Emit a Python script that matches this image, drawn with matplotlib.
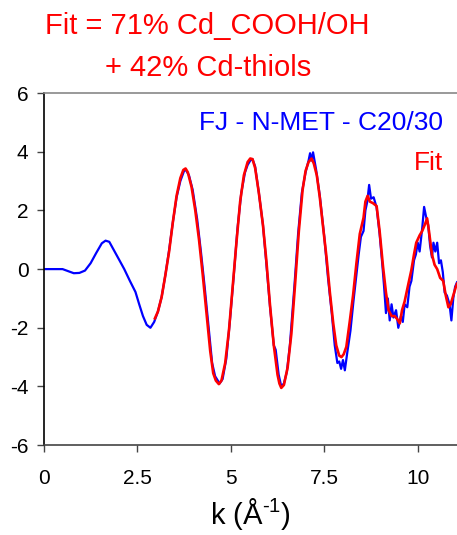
import numpy as np
import matplotlib
matplotlib.use('Agg')
import matplotlib.pyplot as plt

plt.rcParams['font.family'] = ['Liberation Sans', 'DejaVu Sans']
plt.rcParams['mathtext.fontset'] = 'custom'
plt.rcParams['mathtext.rm'] = 'Liberation Sans'
plt.rcParams['axes.unicode_minus'] = False

# --- data ---
k_data = [0, 0.3, 0.5, 0.65, 0.8, 0.95, 1.1, 1.25, 1.4, 1.55, 1.65, 1.75, 1.85,
          2.0, 2.15, 2.3, 2.45, 2.55, 2.65, 2.75, 2.85, 2.95, 3.05, 3.15, 3.25,
          3.35, 3.45, 3.55, 3.65, 3.75, 3.8, 3.88, 3.98, 4.1, 4.2, 4.3, 4.4,
          4.5, 4.58, 4.65, 4.7, 4.78, 4.88, 4.98, 5.08, 5.18, 5.28, 5.38, 5.45,
          5.52, 5.58, 5.65, 5.75, 5.86, 5.95, 6.05, 6.15, 6.2, 6.28, 6.35, 6.42,
          6.5, 6.58, 6.7, 6.8, 6.9, 7.0, 7.08, 7.12, 7.16, 7.2, 7.28, 7.38,
          7.5, 7.6, 7.7, 7.78, 7.85, 7.9, 7.95, 8.0, 8.05, 8.12, 8.2, 8.28,
          8.35, 8.42, 8.48, 8.55, 8.6, 8.65, 8.7, 8.75, 8.82, 8.9, 8.98, 9.05,
          9.1, 9.15, 9.2, 9.25, 9.3, 9.35, 9.42, 9.48, 9.55, 9.6, 9.65, 9.72,
          9.78, 9.83, 9.9, 9.95, 10.0, 10.05, 10.12, 10.17, 10.22, 10.28, 10.33,
          10.38, 10.42, 10.47, 10.52, 10.57, 10.62, 10.67, 10.72, 10.78, 10.85,
          10.9, 10.95, 11.0, 11.05]
chi_data = [0, 0, 0, -0.07, -0.14, -0.13, -0.05, 0.2, 0.55, 0.88, 0.97, 0.93, 0.7,
            0.35, 0.0, -0.4, -0.78, -1.2, -1.6, -1.9, -2.0, -1.8, -1.45, -0.95, -0.2,
            0.65, 1.6, 2.45, 3.0, 3.35, 3.38, 3.2, 2.7, 1.7, 0.6, -0.6, -1.9,
            -3.2, -3.65, -3.8, -3.9, -3.75, -3.05, -1.7, -0.2, 1.4, 2.6, 3.3, 3.55,
            3.7, 3.75, 3.5, 2.6, 1.5, 0.2, -1.3, -2.6, -2.75, -3.6, -4.0, -3.9,
            -3.5, -2.6, -0.6, 1.2, 2.6, 3.3, 3.7, 3.95, 3.7, 3.98, 3.4, 2.5,
            1.1, -0.3, -1.5, -2.6, -3.2, -3.15, -3.4, -3.1, -3.45, -2.8, -2.1, -1.1,
            -0.3, 0.5, 1.1, 1.3, 2.0, 2.3, 2.87, 2.4, 2.45, 2.1, 1.2, 0.2,
            -0.6, -1.5, -1.0, -1.75, -1.2, -1.65, -1.4, -2.0, -1.6, -1.8, -1.2, -1.3,
            -0.6, -0.4, 0.3, 0.5, 0.9, 0.6, 1.4, 2.12, 1.8, 1.5, 0.8,
            0.4, 0.9, 0.6, 0.9, 0.2, 0.3, -0.1, -0.8, -0.9, -1.2,
            -1.75, -1.0, -0.6, -0.45]

k_fit = [2.97, 3.05, 3.15, 3.25, 3.35, 3.45, 3.55, 3.65, 3.73, 3.79, 3.85, 3.95,
         4.05, 4.15, 4.25, 4.35, 4.45, 4.53, 4.6, 4.68, 4.75, 4.85, 4.95, 5.05,
         5.15, 5.25, 5.35, 5.45, 5.52, 5.58, 5.65, 5.75, 5.86, 5.95, 6.05, 6.15,
         6.25, 6.3, 6.35, 6.42, 6.52, 6.62, 6.72, 6.82, 6.92, 7.0, 7.08, 7.16,
         7.22, 7.3, 7.38, 7.48, 7.56, 7.65, 7.74, 7.82, 7.9, 7.96, 8.02, 8.09,
         8.18, 8.27, 8.36, 8.45, 8.55, 8.6, 8.66, 8.72, 8.8, 8.9, 8.98, 9.07,
         9.15, 9.22, 9.3, 9.38, 9.45, 9.52, 9.58, 9.65, 9.75, 9.83, 9.9, 9.96,
         10.05, 10.12, 10.2, 10.25, 10.3, 10.38, 10.45, 10.52, 10.6, 10.68,
         10.75, 10.82, 10.88, 10.95, 11.02, 11.05]
chi_fit = [-1.68, -1.45, -0.95, -0.2, 0.6, 1.6, 2.5, 3.1, 3.38, 3.43, 3.3, 2.8,
           2.0, 1.0, -0.2, -1.5, -2.8, -3.55, -3.8, -3.92, -3.8, -3.2, -2.1, -0.6,
           0.9, 2.3, 3.2, 3.65, 3.77, 3.75, 3.45, 2.6, 1.5, 0.3, -1.25, -2.6,
           -3.6, -3.9, -4.05, -3.95, -3.35, -2.2, -0.5, 1.3, 2.7, 3.35, 3.65, 3.77,
           3.6, 3.2, 2.45, 1.3, 0.4, -0.8, -1.85, -2.6, -2.95, -3.0, -2.9, -2.65,
           -1.8, -0.9, 0.2, 1.2, 1.75, 2.3, 2.5, 2.3, 2.25, 2.15, 1.3, 0.1,
           -0.8, -1.4, -1.6, -1.6, -1.7, -1.85, -1.4, -1.1, -0.5, -0.03, 0.5, 0.9,
           1.15, 1.3, 1.55, 1.73, 1.3, 0.5, 0.15, 0.0, -0.3, -0.4,
           -0.9, -1.3, -1.2, -0.9, -0.6, -0.5]

x_ticks = [0, 2.5, 5, 7.5, 10]
x_tick_labels = ['0', '2.5', '5', '7.5', '10']
y_ticks = [-6, -4, -2, 0, 2, 4, 6]

fig = plt.figure(figsize=(4.57, 5.35), dpi=100)
ax = fig.add_axes([0.096, 0.168, 0.904, 0.658])

ax.plot(k_data, chi_data, color='#0000ff', lw=1.6, zorder=2)
ax.plot(k_fit, chi_fit, color='#ff0000', lw=1.9, zorder=3)

ax.set_xlim(0, 11.05)
ax.set_ylim(-6, 6)
ax.set_xticks(x_ticks)
ax.set_xticklabels(x_tick_labels)
ax.set_yticks(y_ticks)
ax.tick_params(axis='both', direction='out', length=5, width=1, colors='#444444',
               labelcolor='black', labelsize=15)
ax.tick_params(axis='x', pad=12)
ax.tick_params(axis='y', pad=6)
ax.spines['right'].set_visible(False)
ax.spines['left'].set_color('black')
ax.spines['bottom'].set_color('#444444')
ax.spines['top'].set_color('#888888')
for s in ['left', 'bottom', 'top']:
    ax.spines[s].set_linewidth(1.2)

ax.set_xlabel(r'k (Å$^{\text{-1}}$)', fontsize=21, labelpad=6)

fig.text(0.098, 0.951, 'Fit = 71% Cd_COOH/OH', color='#ff0000', fontsize=21,
         ha='left', va='center')
fig.text(0.23, 0.873, '+ 42% Cd-thiols', color='#ff0000', fontsize=21,
         ha='left', va='center')
ax.text(0.967, 0.915, 'FJ - N-MET - C20/30', color='#0000ff', fontsize=19,
        ha='right', va='center', transform=ax.transAxes)
ax.text(0.967, 0.80, 'Fit', color='#ff0000', fontsize=19,
        ha='right', va='center', transform=ax.transAxes)

fig.savefig('out.png', dpi=100)
